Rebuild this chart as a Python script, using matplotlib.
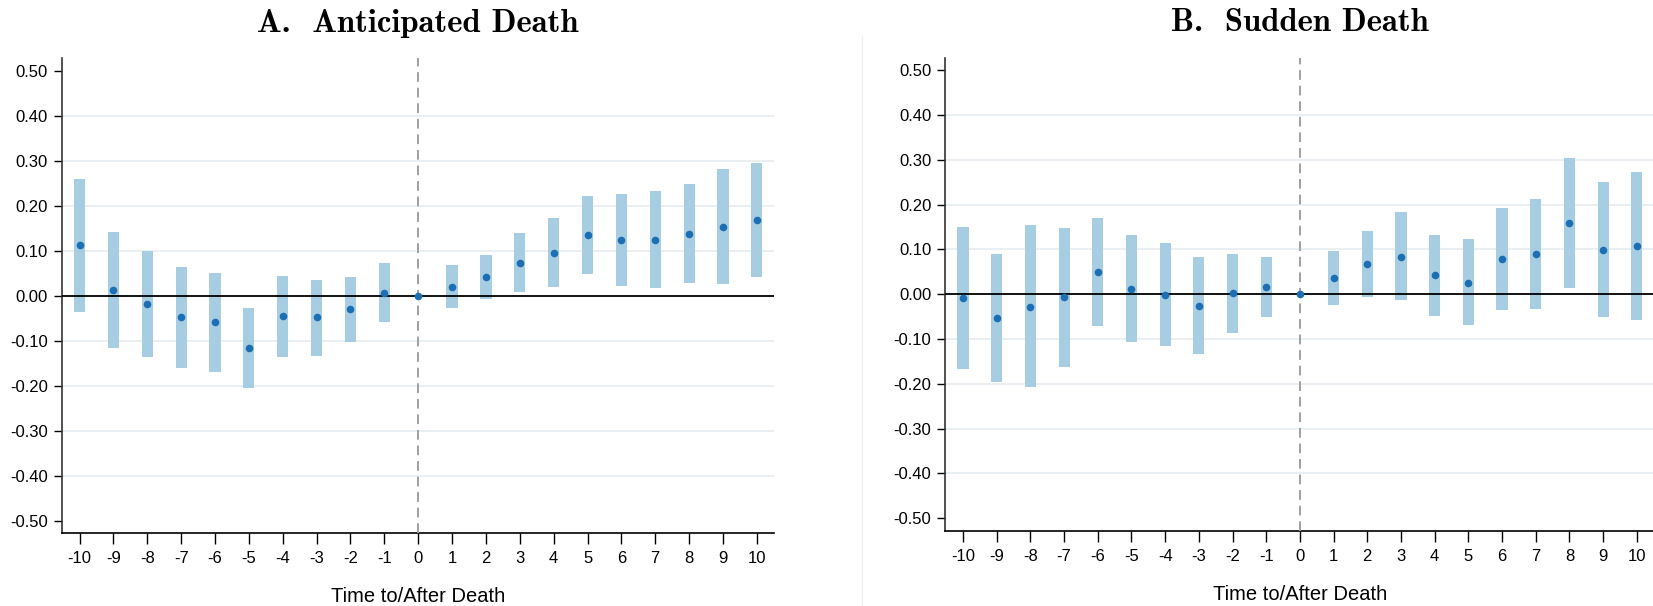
import numpy as np
import matplotlib
matplotlib.use("Agg")
import matplotlib.pyplot as plt
from matplotlib.lines import Line2D

# event time
t = np.arange(-10, 11)

# A. anticipated death: point estimate and 95% CI bounds
a_est = [0.112, 0.012, -0.019, -0.047, -0.059, -0.116, -0.046, -0.048, -0.030, 0.007, 0.0,
         0.019, 0.042, 0.073, 0.096, 0.135, 0.125, 0.125, 0.137, 0.153, 0.169]
a_hi = [0.259, 0.141, 0.099, 0.063, 0.050, -0.028, 0.043, 0.034, 0.041, 0.074, np.nan,
        0.068, 0.090, 0.139, 0.172, 0.221, 0.227, 0.232, 0.248, 0.281, 0.295]
a_lo = [-0.036, -0.117, -0.137, -0.160, -0.169, -0.206, -0.135, -0.133, -0.102, -0.059, np.nan,
        -0.027, -0.007, 0.008, 0.019, 0.048, 0.022, 0.017, 0.028, 0.026, 0.042]

# B. sudden death
b_est = [-0.009, -0.054, -0.028, -0.007, 0.050, 0.012, -0.001, -0.026, 0.002, 0.017, 0.0,
         0.037, 0.068, 0.084, 0.043, 0.026, 0.079, 0.090, 0.159, 0.099, 0.108]
b_hi = [0.150, 0.090, 0.154, 0.148, 0.170, 0.132, 0.114, 0.083, 0.090, 0.083, np.nan,
        0.096, 0.142, 0.184, 0.132, 0.123, 0.193, 0.213, 0.304, 0.251, 0.273]
b_lo = [-0.167, -0.196, -0.208, -0.163, -0.071, -0.107, -0.116, -0.134, -0.086, -0.051, np.nan,
        -0.024, -0.006, -0.013, -0.049, -0.069, -0.035, -0.033, 0.014, -0.051, -0.057]

titles = ["A.  Anticipated Death", "B.  Sudden Death"]
yticks = np.round(np.arange(-0.5, 0.51, 0.1), 2)

bar_col = "#a6cde2"
dot_col = "#1c6fb3"

fig = plt.figure(figsize=(16.53, 6.06), dpi=100)
axes = [fig.add_axes([0.0373, 0.120, 0.4312, 0.7838]),
        fig.add_axes([0.5718, 0.1243, 0.4290, 0.7805])]

# faint separator between the panels
fig.add_artist(Line2D([0.5213, 0.5213], [0.0, 0.94], color="#f0f0f0", lw=1.0))

for ax, title, est, lo, hi in zip(axes, titles,
                                  [a_est, b_est], [a_lo, b_lo], [a_hi, b_hi]):
    lo = np.array(lo); hi = np.array(hi)
    for y in yticks:
        if abs(y) > 0.01 and abs(y) < 0.45:
            ax.axhline(y, color="#e9eff3", lw=1.4, zorder=0)
    ax.bar(t, hi - lo, bottom=lo, width=0.33, color=bar_col, zorder=2)
    ax.axhline(0, color="black", lw=1.3, zorder=3)
    ax.axvline(0, color="#a0a0a0", lw=1.4, ls=(0, (5, 3)), zorder=3)
    ax.scatter(t, est, s=30, color=dot_col, zorder=4, linewidths=0)

    ax.set_xlim(-10.53, 10.52)
    ax.set_ylim(-0.528, 0.528)
    ax.set_xticks(t)
    ax.set_xticklabels([str(v) for v in t])
    ax.set_yticks(yticks)
    ax.set_yticklabels(["%.2f" % v if v != 0 else "0.00" for v in yticks])
    for s in ["top", "right"]:
        ax.spines[s].set_visible(False)
    ax.spines["left"].set_color("#333333")
    ax.spines["left"].set_linewidth(1.2)
    ax.spines["bottom"].set_linewidth(1.2)
    ax.tick_params(axis="y", length=6, width=1.0, pad=4, labelsize=12)
    ax.tick_params(axis="x", length=8, width=1.0, pad=5, labelsize=12)
    for lab in ax.get_xticklabels() + ax.get_yticklabels():
        lab.set_fontfamily("Liberation Sans")
    ax.set_xlabel("Time to/After Death", fontsize=14.5, family="Liberation Sans", labelpad=15)
    ax.set_title(title, fontsize=23.5, family="cmb10", pad=19)

fig.savefig("out.png", dpi=100)
